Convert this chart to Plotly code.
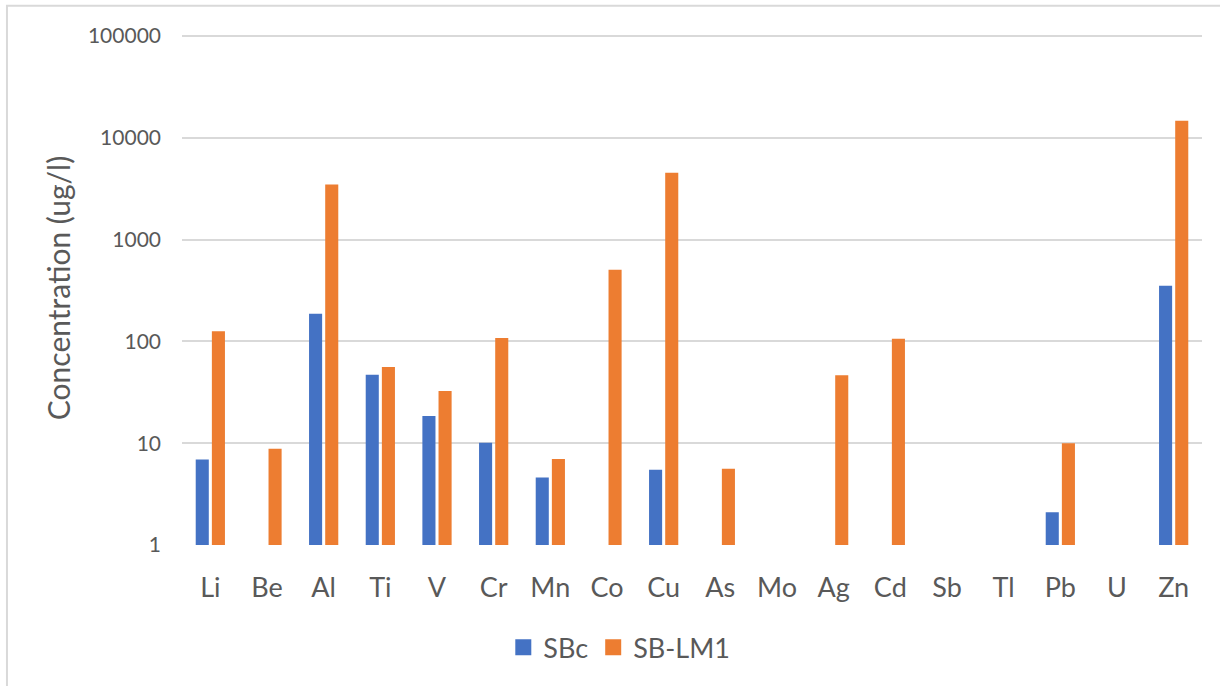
import plotly.graph_objects as go

# Element concentrations (ug/l); None = not detected / no bar
elements = ["Li", "Be", "Al", "Ti", "V", "Cr", "Mn", "Co", "Cu",
            "As", "Mo", "Ag", "Cd", "Sb", "Tl", "Pb", "U", "Zn"]
sbc = [6.9, None, 187, 47, 18.5, 10.1, 4.6, None, 5.5,
       None, None, None, None, None, None, 2.1, None, 352]
sb_lm1 = [126, 8.8, 3490, 56, 32.5, 108, 7.0, 506, 4550,
          5.6, None, 46.6, 106, None, None, 10.0, None, 14770]

y_ticks = [1, 10, 100, 1000, 10000, 100000]
y_tick_text = ["1", "10", "100", "1000", "10000", "100000"]

BLUE = "#4472C4"
ORANGE = "#ED7D31"
TEXT = "#595959"
GRID = "#D9D9D9"
FONT = "Lato, 'Open Sans', sans-serif"

fig = go.Figure()
fig.add_trace(go.Bar(x=elements, y=sbc, name="SBc", marker_color=BLUE,
                     marker_line_width=0, showlegend=False))
fig.add_trace(go.Bar(x=elements, y=sb_lm1, name="SB-LM1", marker_color=ORANGE,
                     marker_line_width=0, showlegend=False))

# legend entries with larger square swatches
for name, color in [("SBc", BLUE), ("SB-LM1", ORANGE)]:
    fig.add_trace(go.Scatter(x=[None], y=[None], mode="markers", name=name,
                             marker=dict(symbol="square", size=16, color=color)))

fig.update_layout(
    width=1220, height=686,
    margin=dict(l=182, r=18, t=31, b=141),
    paper_bgcolor="white", plot_bgcolor="white",
    barmode="group", bargap=0.43, bargroupgap=0.19,
    font=dict(family=FONT, color=TEXT),
    legend=dict(orientation="h", x=0.315, xanchor="left", y=-0.2,
                yanchor="middle", font=dict(size=27, color=TEXT),
                bgcolor="rgba(0,0,0,0)"),
    xaxis=dict(type="category", showgrid=False, zeroline=False, showline=False,
               ticks="", tickfont=dict(size=27, color=TEXT),
               ticklabelstandoff=24, fixedrange=True),
    yaxis=dict(type="log", range=[0, 5.05], tickvals=y_ticks, ticktext=y_tick_text,
               showgrid=True, gridcolor=GRID, gridwidth=2, zeroline=False,
               showline=False, ticks="", tickfont=dict(size=21, color=TEXT),
               ticklabelstandoff=20,
               title=dict(text="Concentration (ug/l)",
                          font=dict(size=30, color=TEXT), standoff=8)),
    shapes=[dict(type="rect", xref="paper", yref="paper",
                 x0=-0.1716, x1=1.2, y0=-0.5, y1=1.049,
                 line=dict(color=GRID, width=2), fillcolor="rgba(0,0,0,0)",
                 layer="below")],
)

fig.write_html("out.html", config={"displayModeBar": False})
